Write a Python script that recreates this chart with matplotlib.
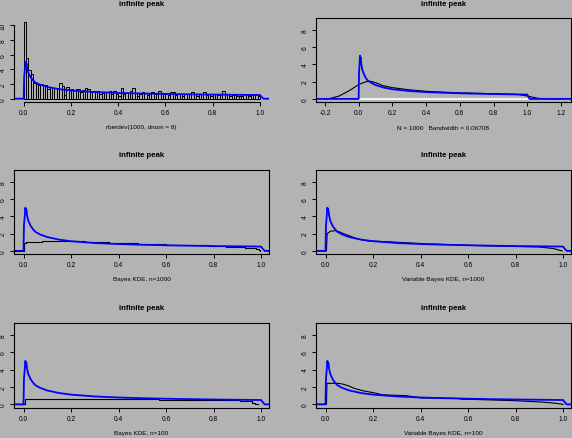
import numpy as np
import matplotlib
matplotlib.use("Agg")
import matplotlib.pyplot as plt

plt.rcParams['font.family'] = ['Liberation Sans', 'DejaVu Sans']

BG = '#b3b3b3'
BLUE = '#0000ff'

# histogram of the sample (bins of width 0.01 on [0, 1]), density scale
hist_heights = [10.5, 5.6, 3.9, 3.3, 2.2, 2.0, 1.8, 2.0, 1.7, 1.9,
                1.3, 1.6, 1.4, 1.4, 1.4, 2.1, 1.7, 0.5, 1.6, 1.2,
                1.3, 1.2, 1.3, 1.3, 0.9, 1.2, 1.4, 1.3, 0.9, 1.1,
                1.1, 1.1, 0.6, 0.8, 0.9, 0.9, 1.0, 0.7, 1.1, 0.6,
                0.4, 1.5, 0.7, 0.8, 0.8, 1.0, 1.4, 0.8, 0.4, 0.6,
                0.9, 0.8, 0.5, 0.7, 0.9, 0.7, 0.6, 1.1, 0.8, 0.6,
                0.7, 0.5, 0.9, 0.9, 0.5, 0.6, 0.7, 0.4, 0.6, 0.7,
                0.6, 0.9, 0.6, 0.4, 0.6, 0.6, 0.9, 0.5, 0.6, 0.4,
                0.7, 0.6, 0.5, 0.6, 1.1, 0.7, 0.6, 0.4, 0.5, 0.5,
                0.3, 0.4, 0.3, 0.7, 0.7, 0.4, 0.7, 0.5, 0.6, 0.4]
hist_edges = np.linspace(0, 1, 101)

# true density (blue)
true_x = [-0.3, 0.0, 0.002, 0.004, 0.008, 0.010, 0.012, 0.015, 0.02, 0.03,
          0.04, 0.05, 0.07, 0.1, 0.15, 0.2, 0.3, 0.4, 0.5, 0.6,
          0.7, 0.8, 0.9, 1.0, 1.005, 1.015, 1.3]
true_y = [0, 0, 3.0, 3.6, 5.0, 4.6, 4.8, 4.1, 3.5, 2.9,
          2.5, 2.2, 1.9, 1.6, 1.3, 1.12, 0.91, 0.79, 0.71, 0.65,
          0.6, 0.56, 0.53, 0.5, 0.3, 0, 0]

# R density() estimate
kde_x = [-0.2, -0.17, -0.12, -0.06, -0.02, 0.0, 0.03, 0.06, 0.08, 0.11,
         0.14, 0.2, 0.3, 0.4, 0.5, 0.6, 0.7, 0.8, 0.9, 0.95,
         1.0, 1.03, 1.06, 1.09, 1.2]
kde_y = [0, 0.05, 0.3, 0.9, 1.4, 1.65, 1.9, 2.05, 2.0, 1.8,
         1.55, 1.3, 1.05, 0.88, 0.78, 0.7, 0.65, 0.6, 0.55, 0.5,
         0.33, 0.2, 0.08, 0.03, 0]

# Bayes KDE, n=1000 (step)
bk1000_x = [-0.05, 0.004, 0.012, 0.077, 0.26, 0.36, 0.48, 0.60, 0.78, 0.85,
            0.93, 0.96, 0.98, 0.99, 0.995]
bk1000_y = [0, 0.9, 1.0, 1.15, 1.05, 0.95, 0.85, 0.72, 0.62, 0.48,
            0.38, 0.3, 0.2, 0.05, 0]

# Variable Bayes KDE, n=1000
vbk1000_x = [-0.05, 0.004, 0.007, 0.021, 0.042, 0.063, 0.084, 0.105, 0.127, 0.155,
             0.18, 0.24, 0.3, 0.4, 0.65, 0.9, 0.96, 0.985, 0.995]
vbk1000_y = [0, 0, 2.0, 2.27, 2.35, 2.15, 1.9, 1.7, 1.45, 1.27,
             1.15, 1.08, 1.0, 0.85, 0.6, 0.45, 0.27, 0.08, 0]

# Bayes KDE, n=100 (step)
bk100_x = [-0.05, 0.005, 0.44, 0.57, 0.62, 0.76, 0.91, 0.96, 0.975, 0.985]
bk100_y = [0, 0.66, 0.6, 0.52, 0.5, 0.45, 0.35, 0.2, 0.08, 0]

# Variable Bayes KDE, n=100
vbk100_x = [-0.05, 0.004, 0.006, 0.05, 0.07, 0.1, 0.12, 0.155, 0.2, 0.24,
            0.34, 0.4, 0.55, 0.58, 0.65, 0.8, 0.91, 0.97, 1.0]
vbk100_y = [0, 0, 2.42, 2.42, 2.35, 2.1, 1.85, 1.58, 1.35, 1.1,
            1.0, 0.75, 0.7, 0.58, 0.55, 0.42, 0.27, 0.12, 0]

W, H = 572, 439
fig = plt.figure(figsize=(W / 100, H / 100), dpi=100, facecolor=BG)

def make_ax(left, top, right, bottom):
    ax = fig.add_axes([left / W, 1 - bottom / H, (right - left) / W, (bottom - top) / H])
    ax.set_facecolor(BG)
    for s in ax.spines.values():
        s.set_linewidth(0.8)
    ax.tick_params(axis='both', length=2.6, width=0.7, pad=2.6, labelsize=4.8,
                   top=False, right=False, colors='black')
    return ax

def decorate(ax, xlabel):
    ax.text(0.5, 1 + 15 / 84, 'infinite peak', transform=ax.transAxes,
            ha='center', va='center', fontsize=5.6, fontweight='bold')
    ax.text(0.5, -25 / 84, xlabel, transform=ax.transAxes,
            ha='center', va='center', fontsize=4.6)
    for lab in ax.get_yticklabels():
        lab.set_rotation(90)
        lab.set_va('center')

xt01 = [0.0, 0.2, 0.4, 0.6, 0.8, 1.0]
yt = [0, 2, 4, 6, 8]
ylim = (-0.36, 9.36)

rows = [(19, 103), (171, 255), (324, 408.5)]
cols = [(14, 269), (316, 571)]

# panel 1: histogram
ax = make_ax(cols[0][0], rows[0][0], cols[0][1], rows[0][1])
ax.hist(hist_edges[:-1], bins=hist_edges, weights=hist_heights,
        histtype='bar', fill=False, edgecolor='black', linewidth=0.7)
ax.plot(true_x, true_y, color=BLUE, lw=1.3)
ax.set_xlim(-0.041, 1.038)
ax.set_ylim(-0.45, 11.0)
ax.spines['top'].set_visible(False)
ax.spines['right'].set_visible(False)
ax.spines['left'].set_bounds(0, 10)
ax.spines['bottom'].set_bounds(0, 1)
ax.set_xticks(xt01)
ax.set_xticklabels(['0.0', '0.2', '0.4', '0.6', '0.8', '1.0'])
ax.set_yticks([0, 2, 4, 6, 8, 10])
ax.set_yticklabels(['0', '2', '4', '6', '8', '10'])
decorate(ax, 'rberdev(1000, dnum = 8)')

# panel 2: density()
ax = make_ax(cols[1][0], rows[0][0], cols[1][1], rows[0][1])
ax.plot(kde_x, kde_y, color='black', lw=0.8)
ax.plot([0, 1], [0, 0], color='white', lw=1.2)
ax.plot(true_x, true_y, color=BLUE, lw=1.3)
ax.set_xlim(-0.253, 1.259)
ax.set_ylim(*ylim)
ax.set_xticks([-0.2, 0.0, 0.2, 0.4, 0.6, 0.8, 1.0, 1.2])
ax.set_xticklabels(['-0.2', '0.0', '0.2', '0.4', '0.6', '0.8', '1.0', '1.2'])
ax.set_yticks(yt)
ax.set_yticklabels([str(v) for v in yt])
decorate(ax, 'N = 1000   Bandwidth = 0.06708')

panels = [
    (rows[1], cols[0], bk1000_x, bk1000_y, 'steps-post', 'Bayes KDE, n=1000'),
    (rows[1], cols[1], vbk1000_x, vbk1000_y, 'default', 'Variable Bayes KDE, n=1000'),
    (rows[2], cols[0], bk100_x, bk100_y, 'steps-post', 'Bayes KDE, n=100'),
    (rows[2], cols[1], vbk100_x, vbk100_y, 'default', 'Variable Bayes KDE, n=100'),
]
for (top, bottom), (left, right), xs, ys, ds, lab in panels:
    ax = make_ax(left, top, right, bottom)
    ax.plot(xs, ys, color='black', lw=0.8, drawstyle=ds)
    ax.plot(true_x, true_y, color=BLUE, lw=1.3)
    ax.set_xlim(-0.04, 1.033)
    ax.set_ylim(*ylim)
    ax.set_xticks(xt01)
    ax.set_xticklabels(['0.0', '0.2', '0.4', '0.6', '0.8', '1.0'])
    ax.set_yticks(yt)
    ax.set_yticklabels([str(v) for v in yt])
    decorate(ax, lab)

fig.savefig('out.png', dpi=100, facecolor=BG)
